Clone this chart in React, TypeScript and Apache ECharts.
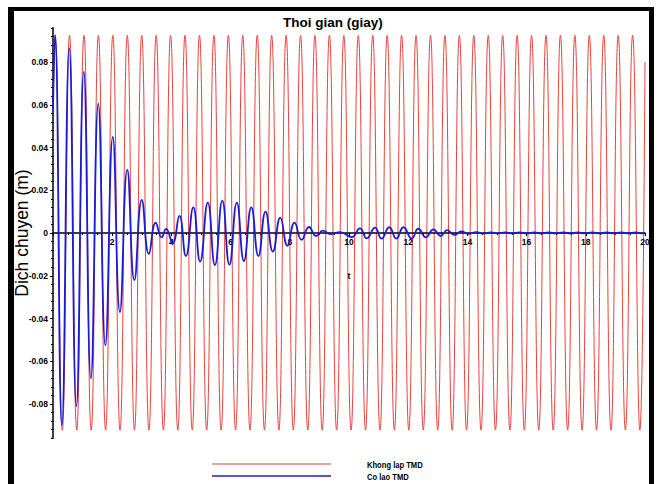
import React, { useEffect, useRef } from 'react';
import * as echarts from 'echarts';

const titleText = 'Thoi gian (giay)';
const yAxisName = 'Dich chuyen (m)';
const xAxisName = 't';
const seriesNames = ['Khong lap TMD', 'Co lao TMD'];
const seriesColors = ['#e8413d', '#1b1bd6'];
const yMin = -0.096;
const yMax = 0.096;
const yTickValues = [-0.08, -0.06, -0.04, -0.02, 0, 0.02, 0.04, 0.06, 0.08];
const yMinorTickValues = [
  -0.096, -0.092, -0.088, -0.084, -0.076, -0.072, -0.068, -0.064, -0.056, -0.052, -0.048, -0.044,
  -0.036, -0.032, -0.028, -0.024, -0.016, -0.012, -0.008, -0.004, 0.004, 0.008, 0.012, 0.016,
  0.024, 0.028, 0.032, 0.036, 0.044, 0.048, 0.052, 0.056, 0.064, 0.068, 0.072, 0.076, 0.084,
  0.088, 0.092, 0.096,
];

// Without TMD: extrema (time s, displacement m)
const redPoints: [number, number][] = [
  [0, 0.058], [0.07, 0.0925], [0.314, -0.0922], [0.558, 0.0925], [0.802, -0.0922],
  [1.046, 0.0925], [1.29, -0.0922], [1.533, 0.0925], [1.777, -0.0922], [2.021, 0.0925],
  [2.265, -0.0922], [2.509, 0.0925], [2.753, -0.0922], [2.997, 0.0925], [3.241, -0.0922],
  [3.485, 0.0925], [3.729, -0.0922], [3.972, 0.0925], [4.216, -0.0922], [4.46, 0.0925],
  [4.704, -0.0922], [4.948, 0.0925], [5.192, -0.0922], [5.436, 0.0925], [5.68, -0.0922],
  [5.924, 0.0925], [6.168, -0.0922], [6.411, 0.0925], [6.655, -0.0922], [6.899, 0.0925],
  [7.143, -0.0922], [7.387, 0.0925], [7.631, -0.0922], [7.875, 0.0925], [8.119, -0.0922],
  [8.363, 0.0925], [8.607, -0.0922], [8.85, 0.0925], [9.094, -0.0922], [9.338, 0.0925],
  [9.582, -0.0922], [9.826, 0.0925], [10.07, -0.0922], [10.314, 0.0925], [10.558, -0.0922],
  [10.802, 0.0925], [11.046, -0.0922], [11.289, 0.0925], [11.533, -0.0922], [11.777, 0.0925],
  [12.021, -0.0922], [12.265, 0.0925], [12.509, -0.0922], [12.753, 0.0925], [12.997, -0.0922],
  [13.241, 0.0925], [13.485, -0.0922], [13.728, 0.0925], [13.972, -0.0922], [14.216, 0.0925],
  [14.46, -0.0922], [14.704, 0.0925], [14.948, -0.0922], [15.192, 0.0925], [15.436, -0.0922],
  [15.68, 0.0925], [15.924, -0.0922], [16.167, 0.0925], [16.411, -0.0922], [16.655, 0.0925],
  [16.899, -0.0922], [17.143, 0.0925], [17.387, -0.0922], [17.631, 0.0925], [17.875, -0.0922],
  [18.119, 0.0925], [18.363, -0.0922], [18.606, 0.0925], [18.85, -0.0922], [19.094, 0.0925],
  [19.338, -0.0922], [19.582, 0.0925], [19.826, -0.0922], [20, 0.08],
];

// With TMD: extrema
const bluePoints: [number, number][] = [
  [0, 0.058], [0.07, 0.0926], [0.3, -0.09], [0.55, 0.0865], [0.79, -0.081],
  [1.04, 0.0755], [1.28, -0.068], [1.53, 0.0605], [1.77, -0.0525], [2.02, 0.045],
  [2.26, -0.037], [2.51, 0.0295], [2.75, -0.022], [3.0, 0.0155], [3.24, -0.0098],
  [3.47, 0.0048], [3.67, -0.002], [3.82, 0.0019], [4.04, -0.0048], [4.27, 0.008],
  [4.49, -0.0108], [4.74, 0.012], [4.97, -0.0134], [5.23, 0.0142], [5.47, -0.015],
  [5.72, 0.0151], [5.96, -0.0148], [6.21, 0.0142], [6.45, -0.0131], [6.7, 0.012],
  [6.94, -0.0108], [7.18, 0.01], [7.43, -0.0087], [7.68, 0.0072], [7.92, -0.006],
  [8.16, 0.0049], [8.4, -0.0032], [8.65, 0.0028], [8.89, -0.0014], [9.12, 0.0011],
  [9.37, -0.0005], [9.7, 0.0004], [10.09, -0.0019], [10.37, 0.0022], [10.6, -0.0025],
  [10.88, 0.0025], [11.1, -0.0026], [11.36, 0.0027], [11.6, -0.0026], [11.84, 0.0027],
  [12.12, -0.0026], [12.34, 0.002], [12.6, -0.002], [12.85, 0.0017], [13.1, -0.0014],
  [13.32, 0.0013], [13.56, -0.0009], [13.8, 0.0007], [14.05, -0.0004], [14.3, 0.0004],
  [14.54, -0.0003], [14.79, 0.0003], [15.03, -0.0002], [15.28, 0.0003], [15.52, -0.0002],
  [15.77, 0.0003], [16.01, -0.0002], [16.26, 0.0003], [16.5, -0.0002], [16.75, 0.0003],
  [16.99, -0.0002], [17.24, 0.0003], [17.48, -0.0002], [17.73, 0.0003], [17.97, -0.0002],
  [18.22, 0.0003], [18.46, -0.0002], [18.71, 0.0003], [18.95, -0.0002], [19.2, 0.0003],
  [19.44, -0.0002], [19.69, 0.0003], [19.93, -0.0002], [20, -0.0001],
];

const tickFont = {
  fontSize: 8.5,
  fontWeight: 'bold' as const,
  fontFamily: 'Liberation Sans, Arial, sans-serif',
  color: '#000',
};

const GRID_TOP = 27.8;
const GRID_BOTTOM = 45.8;
const CHART_H = 484;

export default function App() {
  const ref = useRef<HTMLDivElement>(null);
  useEffect(() => {
    if (!ref.current) return;
    const chart = echarts.init(ref.current, undefined, { renderer: 'svg' });
    const gridH = CHART_H - GRID_TOP - GRID_BOTTOM;
    // move the x axis up to the value 0 of the y axis
    const xOffset = -((0 - yMin) / (yMax - yMin)) * gridH;
    const legendFont = {
      fontSize: 9.5,
      fontWeight: 'bold',
      fontFamily: '"Liberation Sans Narrow", "Liberation Sans", Arial, sans-serif',
      fill: '#000',
      verticalAlign: 'middle',
      x: 0,
      y: 0,
    };
    chart.setOption({
      animation: false,
      backgroundColor: '#fff',
      title: {
        text: titleText,
        left: 283,
        top: 15,
        padding: 0,
        textStyle: {
          fontSize: 13.5,
          fontWeight: 'bold',
          fontFamily: 'Liberation Sans, Arial, sans-serif',
          color: '#000',
        },
      },
      grid: { left: 53, right: 14, top: GRID_TOP, bottom: GRID_BOTTOM },
      xAxis: {
        type: 'value',
        min: 0,
        max: 20,
        interval: 2,
        position: 'bottom',
        offset: xOffset,
        z: 3,
        name: xAxisName,
        nameLocation: 'middle',
        nameGap: 38,
        nameMoveOverlap: false,
        nameTextStyle: { fontSize: 9, fontWeight: 'bold', fontFamily: 'Liberation Sans, Arial', color: '#000' },
        axisLine: { onZero: false, lineStyle: { color: '#000', width: 1.5 } },
        axisTick: { length: 3, lineStyle: { color: '#000' } },
        minorTick: { show: true, splitNumber: 4, length: 2, lineStyle: { color: '#000' } },
        axisLabel: {
          ...tickFont,
          margin: 4,
          formatter: (v: number) => (v === 0 ? '' : String(v)),
        },
        splitLine: { show: false },
      },
      yAxis: [
        {
          type: 'value',
          min: yMin,
          max: yMax,
          position: 'left',
          z: 3,
          name: yAxisName,
          nameLocation: 'middle',
          nameRotate: 90,
          nameGap: 22,
          nameMoveOverlap: false,
          nameTextStyle: { fontSize: 17.5, fontFamily: 'Liberation Sans, Arial, sans-serif', color: '#000' },
          axisLine: { show: true, onZero: false, lineStyle: { color: '#000', width: 1.5 } },
          axisTick: { show: true, length: 3, customValues: yTickValues, lineStyle: { color: '#000' } },
          axisLabel: {
            ...tickFont,
            margin: 5,
            customValues: yTickValues,
            formatter: (v: number) => (Math.abs(v) < 1e-9 ? '0' : v.toFixed(2)),
          },
          splitLine: { show: false },
        },
        {
          type: 'value',
          min: yMin,
          max: yMax,
          position: 'left',
          offset: 0,
          z: 3,
          axisLine: { show: false },
          axisLabel: { show: false },
          axisTick: { show: true, length: 2, customValues: yMinorTickValues, lineStyle: { color: '#000' } },
          splitLine: { show: false },
        },
      ],
      series: [
        {
          name: seriesNames[0],
          type: 'line',
          data: redPoints,
          showSymbol: false,
          smooth: true,
          z: 2,
          lineStyle: { color: seriesColors[0], width: 1 },
        },
        {
          name: seriesNames[1],
          type: 'line',
          data: bluePoints,
          showSymbol: false,
          smooth: true,
          z: 4,
          lineStyle: { color: seriesColors[1], width: 1.8 },
        },
      ],
      graphic: [
        { type: 'rect', shape: { x: 8, y: 7, width: 6, height: 477 }, style: { fill: '#000' } },
        { type: 'rect', shape: { x: 8, y: 7, width: 646, height: 4 }, style: { fill: '#000' } },
        { type: 'rect', shape: { x: 649, y: 7, width: 5, height: 477 }, style: { fill: '#000' } },
        { type: 'line', shape: { x1: 212, y1: 464, x2: 331, y2: 464 }, style: { stroke: seriesColors[0], lineWidth: 1.2 } },
        { type: 'line', shape: { x1: 212, y1: 476, x2: 331, y2: 476 }, style: { stroke: seriesColors[1], lineWidth: 1.6 } },
        { type: 'text', x: 367, y: 465, scaleX: 0.8, style: { text: seriesNames[0], ...legendFont } },
        { type: 'text', x: 367, y: 477, scaleX: 0.8, style: { text: seriesNames[1], ...legendFont } },
      ],
    });
    return () => chart.dispose();
  }, []);
  return (
    <div
      ref={ref}
      style={{ position: 'fixed', left: 0, top: 0, width: 659, height: 484, background: '#fff' }}
    />
  );
}
